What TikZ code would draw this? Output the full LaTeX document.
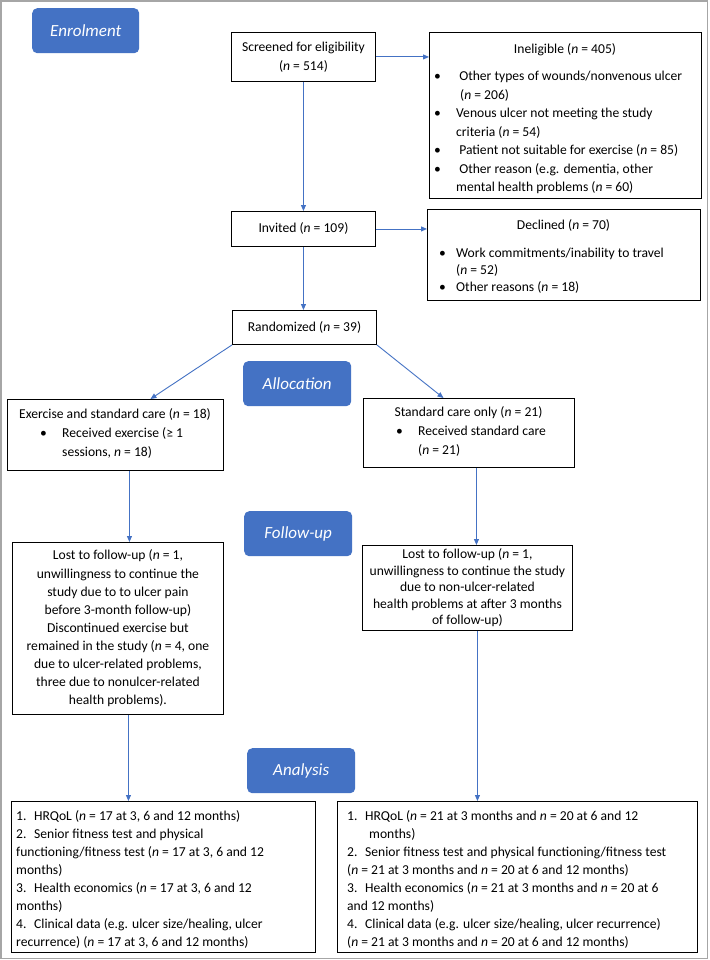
\documentclass[tikz,border=0pt]{standalone}
\usepackage{fontspec}
\setmainfont{Carlito}
\usetikzlibrary{arrows.meta,calc}
\definecolor{obl}{HTML}{4472C4}
\definecolor{framegray}{HTML}{A6A6A6}
\newcommand{\vn}{\textit{n}}
\newcommand{\fsA}{\fontsize{13.6}{18.5}\selectfont}
\newcommand{\fsB}{\fontsize{13.6}{16.5}\selectfont}
\newcommand{\fsC}{\fontsize{13.6}{17}\selectfont}
\newcommand{\fsD}{\fontsize{13.6}{18}\selectfont}
\newcommand{\bul}[1]{\makebox[#1][l]{•}}
\newcommand{\num}[1]{\makebox[18pt][l]{#1}}
\begin{document}
\begin{tikzpicture}[x=1pt,y=-1pt,
  box/.style={draw=black, line width=0.9pt, fill=white, inner sep=0pt, anchor=north west, font=\fsA, align=center},
  pill/.style={fill=obl, rounded corners=5pt, inner sep=0pt, anchor=north west, text=white, font=\fontsize{17}{20}\selectfont\itshape},
  txt/.style={inner sep=0pt, font=\fsA, align=left, anchor=north west},
  ttl/.style={inner sep=0pt, font=\fsA, anchor=base},
  arr/.style={draw=obl, line width=0.9pt, -{Triangle[length=6pt,width=5pt]}}]
\useasboundingbox (0,0) rectangle (709,960);
\fill[white] (0,0) rectangle (709,960);
\draw[framegray, line width=1.5pt] (1,1) rectangle (707.5,958.5);

% phase pills
\node[pill, minimum width=107pt, minimum height=45pt] (enrol) at (32,8) {Enrolment};
\node[pill, minimum width=108pt, minimum height=45pt] (alloc) at (243,361) {Allocation};
\node[pill, minimum width=108pt, minimum height=45pt] (follow) at (244,511) {Follow-up};
\node[pill, minimum width=108pt, minimum height=45pt] (analysis) at (247,748) {Analysis};

% boxes
\node[box, minimum width=144pt, minimum height=49pt, font=\fontsize{13.6}{19}\selectfont] (screen) at (231,32) {Screened for eligibility\\(\vn{} = 514)};
\node[box, minimum width=272pt, minimum height=166pt] (inelig) at (429,32) {};
\node[box, minimum width=144pt, minimum height=35pt] (invited) at (231,211) {Invited (\vn{} = 109)};
\node[box, minimum width=273pt, minimum height=91pt] (declined) at (427,209) {};
\node[box, minimum width=144pt, minimum height=34pt] (random) at (232,310) {Randomized (\vn{} = 39)};
\node[box, minimum width=216pt, minimum height=71pt] (exer) at (7,399) {};
\node[box, minimum width=211pt, minimum height=69pt] (std) at (363,398) {};
\node[box, minimum width=211pt, minimum height=172pt, font=\fontsize{13.6}{18.1}\selectfont] (fuL) at (12,542) {Lost to follow-up (\vn{} = 1,\\
unwillingness to continue the\\
study due to to ulcer pain\\
before 3-month follow-up)\\
Discontinued exercise but\\
remained in the study (\vn{} = 4, one\\
due to ulcer-related problems,\\
three due to nonulcer-related\\
health problems).};
\node[box, minimum width=210pt, minimum height=85pt, font=\fsB] (fuR) at (362,545) {Lost to follow-up (\vn{} = 1,\\
unwillingness to continue the study\\
due to non-ulcer-related\\
health problems at after 3 months\\
of follow-up)};
\node[box, minimum width=304pt, minimum height=151pt] (anL) at (11,801) {};
\node[box, minimum width=360pt, minimum height=151pt] (anR) at (337,801) {};

% texts of list boxes
\node[ttl] (inelT) at (565,53.5) {Ineligible (\vn{} = 405)};
\node[txt] (inelL) at (434,67.5) {\strut\bul{22pt} Other types of wounds/nonvenous ulcer\\
\hspace*{26pt}(\vn{} = 206)\\
\bul{22pt}Venous ulcer not meeting the study\\
\hspace*{22pt}criteria (\vn{} = 54)\\
\bul{22pt} Patient not suitable for exercise (\vn{} = 85)\\
\bul{22pt} Other reason (e.g. dementia, other\\
\hspace*{22pt}mental health problems (\vn{} = 60)};

\node[ttl] (declT) at (563.5,229.5) {Declined (\vn{} = 70)};
\node[txt, font=\fsC] (declL) at (439,245.6) {\strut\bul{17pt}Work commitments/inability to travel\\
\hspace*{17pt}(\vn{} = 52)\\
\bul{17pt}Other reasons (\vn{} = 18)};

\node[ttl] (exerT) at (115,418.5) {Exercise and standard care (\vn{} = 18)};
\node[txt] (exerL) at (40,424.5) {\strut\bul{22pt}Received exercise (≥ 1\\
\hspace*{22pt}sessions, \vn{} = 18)};

\node[ttl] (stdT) at (468.5,416.5) {Standard care only (\vn{} = 21)};
\node[txt] (stdL) at (396,422.5) {\strut\bul{22pt}Received standard care\\
\hspace*{22pt}(\vn{} = 21)};

\node[txt, font=\fsD] (anLT) at (16,807.4) {\strut\num{1.}HRQoL (\vn{} = 17 at 3, 6 and 12 months)\\
\num{2.}Senior fitness test and physical\\
functioning/fitness test (\vn{} = 17 at 3, 6 and 12\\
months)\\
\num{3.}Health economics (\vn{} = 17 at 3, 6 and 12\\
months)\\
\num{4.}Clinical data (e.g. ulcer size/healing, ulcer\\
recurrence) (\vn{} = 17 at 3, 6 and 12 months)};

\node[txt, font=\fsD] (anRT) at (347,807.4) {\strut\num{1.}HRQoL (\vn{} = 21 at 3 months and \vn{} = 20 at 6 and 12\\
\hspace*{22pt}months)\\
\num{2.}Senior fitness test and physical functioning/fitness test\\
(\vn{} = 21 at 3 months and \vn{} = 20 at 6 and 12 months)\\
\num{3.}Health economics (\vn{} = 21 at 3 months and \vn{} = 20 at 6\\
and 12 months)\\
\num{4.}Clinical data (e.g. ulcer size/healing, ulcer recurrence)\\
(\vn{} = 21 at 3 months and \vn{} = 20 at 6 and 12 months)};

% connectors
\draw[arr] (screen.east) -- (screen.east -| inelig.west);
\draw[arr] (screen.south) -- (screen.south |- invited.north);
\draw[arr] (invited.east) -- (invited.east -| declined.west);
\draw[arr] (invited.south) -- (invited.south |- random.north);
\draw[arr] (random.south west) -- ($(exer.north)+(35,0)$);
\draw[arr] (random.south east) -- ($(std.north)+(-25.5,0)$);
\draw[arr] ($(exer.south)+(14,0)$) -- ($(exer.south |- fuL.north)+(14,0)$);
\draw[arr] ($(std.south)+(7.5,0)$) -- ($(std.south |- fuR.north)+(7.5,0)$);
\draw[arr] ($(fuL.south)+(10.5,0)$) -- ($(fuL.south |- anL.north)+(10.5,0)$);
\draw[arr] ($(fuR.south)+(10,0)$) -- ($(fuR.south |- anR.north)+(10,0)$);
\end{tikzpicture}
\end{document}
